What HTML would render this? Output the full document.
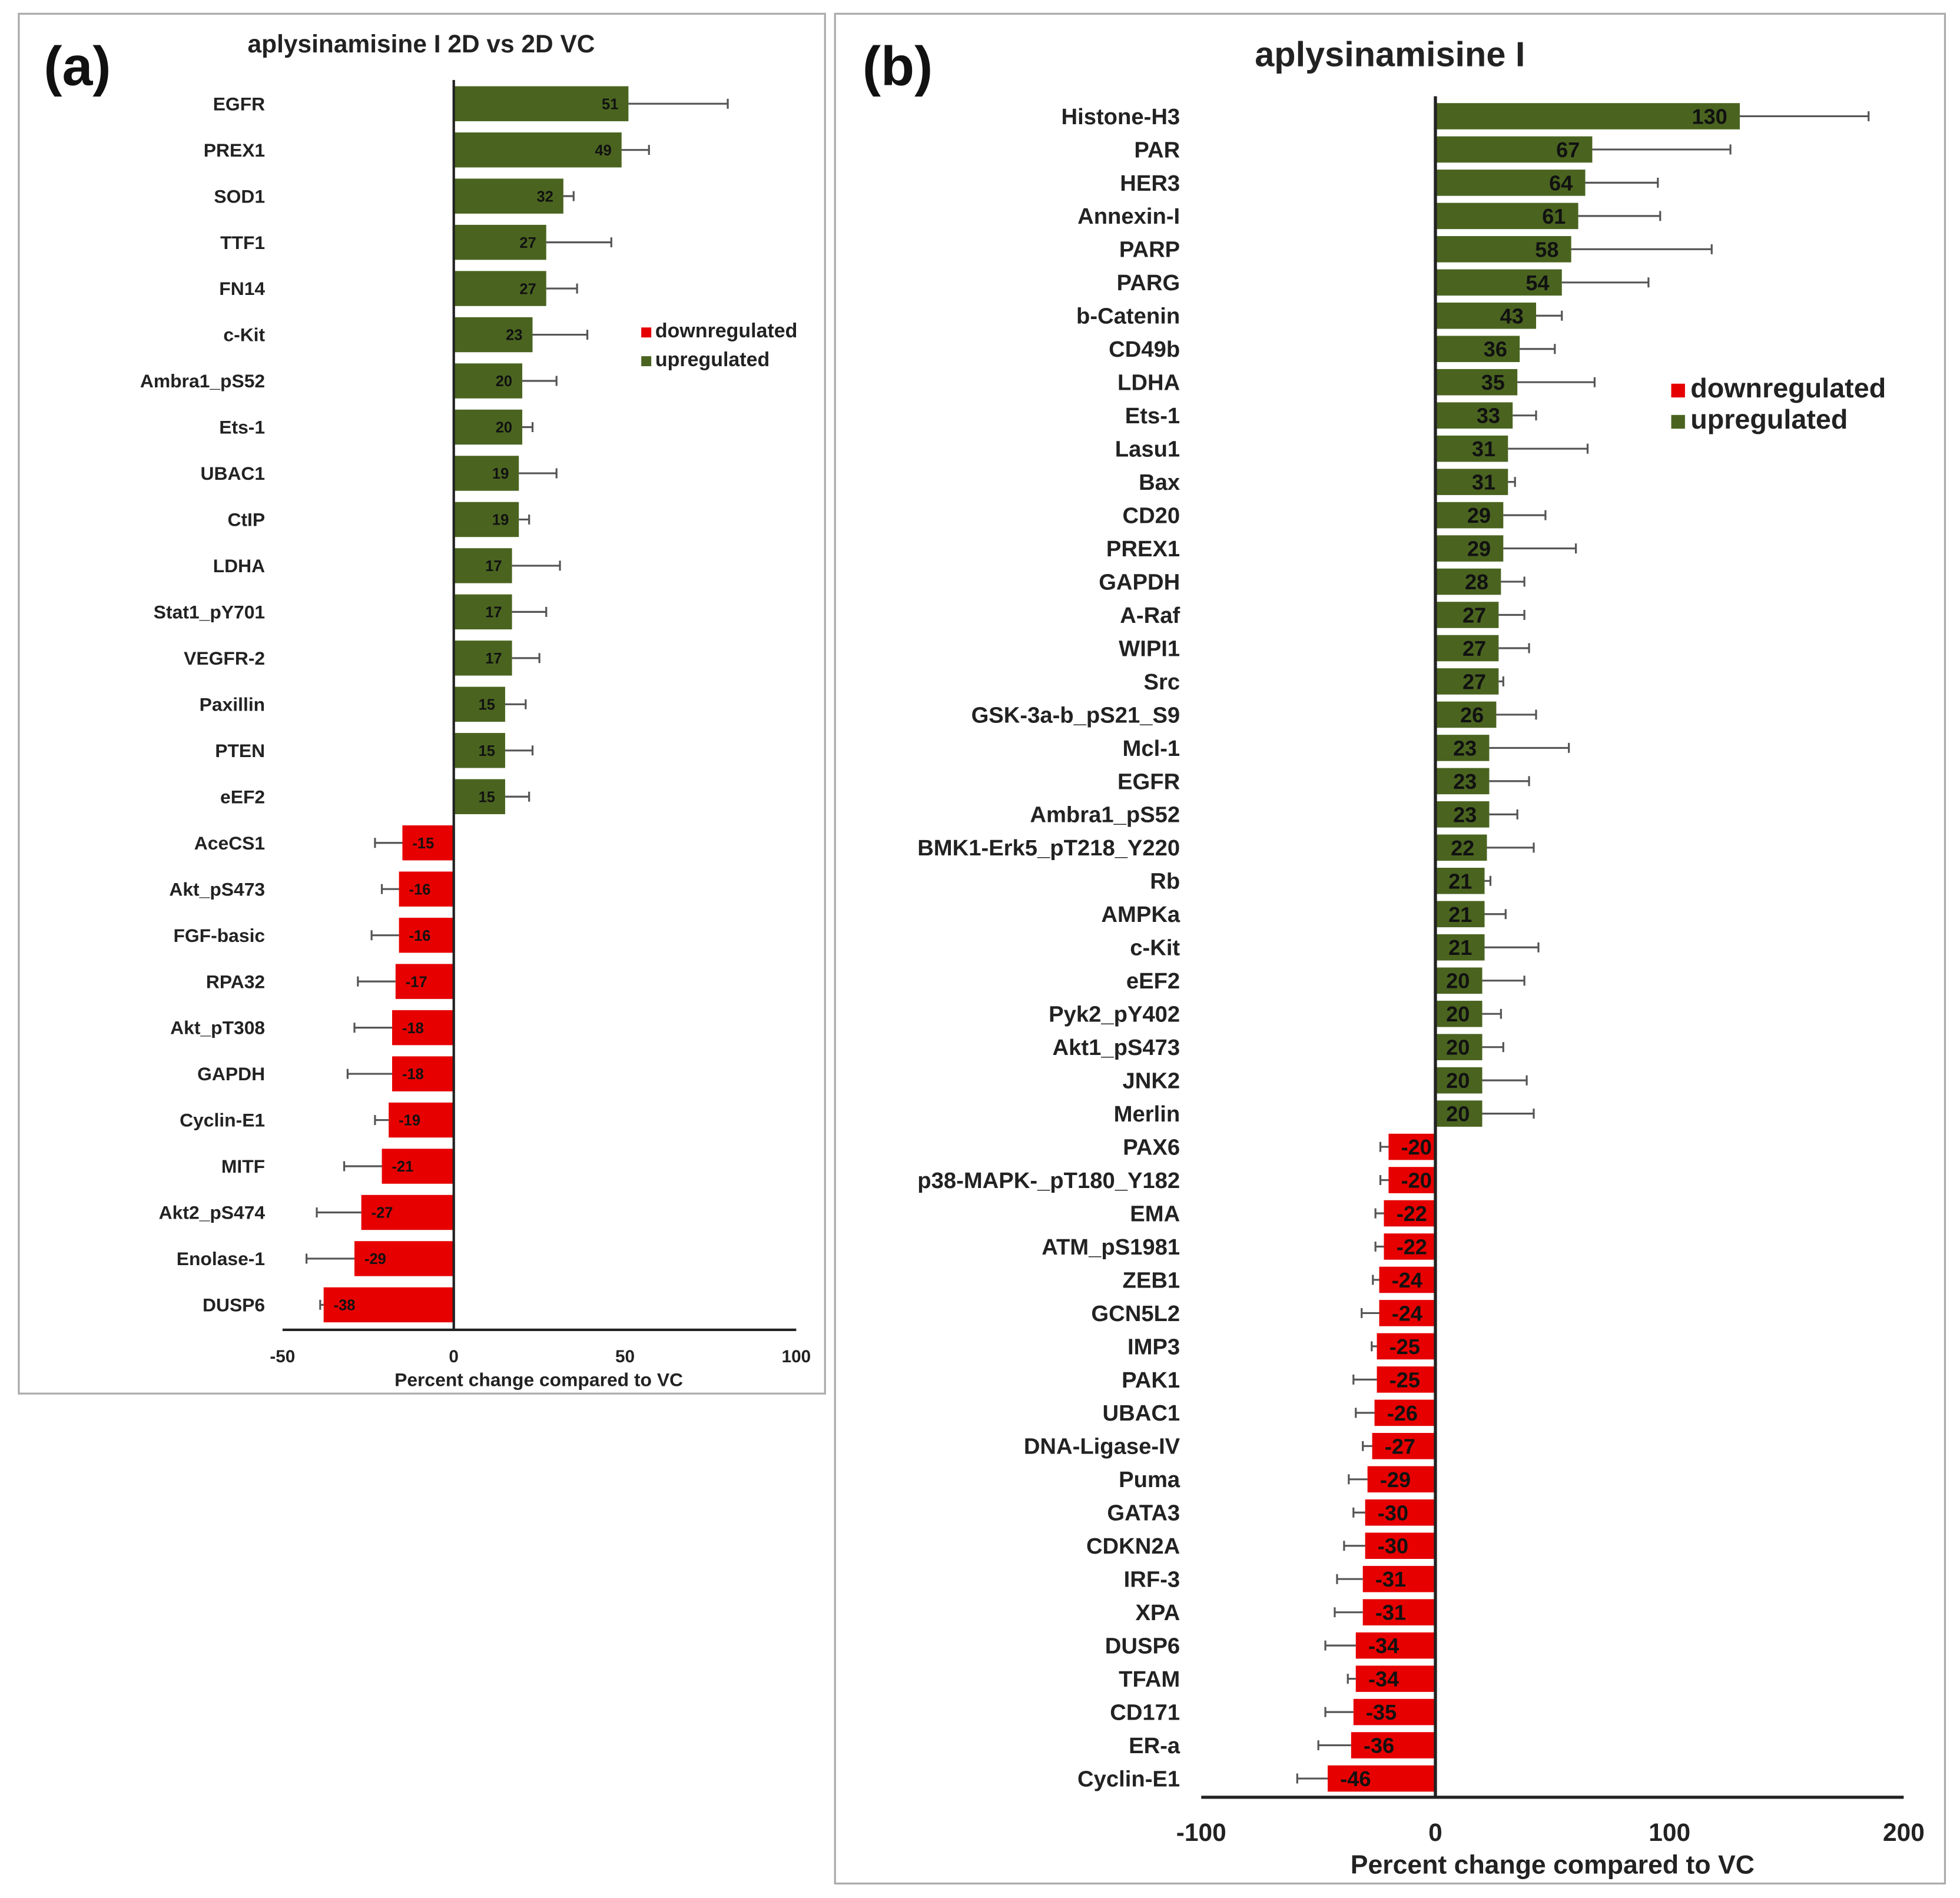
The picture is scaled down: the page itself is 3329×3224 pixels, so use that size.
<!DOCTYPE html>
<html><head><meta charset="utf-8">
<style>
html,body{margin:0;padding:0;background:#fff;}
svg{display:block;}
text{font-family:"Liberation Sans",sans-serif;font-weight:bold;}
</style></head>
<body>
<svg id="fig" width="3329" height="3224" viewBox="0 0 1568 1518.6" xmlns="http://www.w3.org/2000/svg">
  <rect x="15" y="11" width="645" height="1104" fill="#fff" stroke="#aaa" stroke-width="1.5"/>
  <rect x="668" y="11" width="888" height="1496" fill="#fff" stroke="#aaa" stroke-width="1.5"/>
  <text x="35" y="68" font-size="44" font-weight="normal" style="font-weight:bold" fill="#111">(a)</text>
  <text x="337" y="42" font-size="20" text-anchor="middle" fill="#222">aplysinamisine I 2D vs 2D VC</text>
  <text x="690" y="68" font-size="44" fill="#111">(b)</text>
  <text x="1112" y="53" font-size="28" text-anchor="middle" fill="#222">aplysinamisine I</text>
  <g id="ga"></g>
  <g id="gb"></g>
</svg>
<script>
const catsA = ["EGFR","PREX1","SOD1","TTF1","FN14","c-Kit","Ambra1_pS52","Ets-1","UBAC1","CtIP","LDHA","Stat1_pY701","VEGFR-2","Paxillin","PTEN","eEF2","AceCS1","Akt_pS473","FGF-basic","RPA32","Akt_pT308","GAPDH","Cyclin-E1","MITF","Akt2_pS474","Enolase-1","DUSP6"];
const valsA = [51,49,32,27,27,23,20,20,19,19,17,17,17,15,15,15,-15,-16,-16,-17,-18,-18,-19,-21,-27,-29,-38];
const errsA = [29,8,3,19,9,16,10,3,11,3,14,10,8,6,8,7,8,5,8,11,11,13,4,11,13,14,1];
const ticksA = [-50,0,50,100];

const catsB = ["Histone-H3","PAR","HER3","Annexin-I","PARP","PARG","b-Catenin","CD49b","LDHA","Ets-1","Lasu1","Bax","CD20","PREX1","GAPDH","A-Raf","WIPI1","Src","GSK-3a-b_pS21_S9","Mcl-1","EGFR","Ambra1_pS52","BMK1-Erk5_pT218_Y220","Rb","AMPKa","c-Kit","eEF2","Pyk2_pY402","Akt1_pS473","JNK2","Merlin","PAX6","p38-MAPK-_pT180_Y182","EMA","ATM_pS1981","ZEB1","GCN5L2","IMP3","PAK1","UBAC1","DNA-Ligase-IV","Puma","GATA3","CDKN2A","IRF-3","XPA","DUSP6","TFAM","CD171","ER-a","Cyclin-E1"];
const valsB = [130,67,64,61,58,54,43,36,35,33,31,31,29,29,28,27,27,27,26,23,23,23,22,21,21,21,20,20,20,20,20,-20,-20,-22,-22,-24,-24,-25,-25,-26,-27,-29,-30,-30,-31,-31,-34,-34,-35,-36,-46];
const errsB = [55,59,31,35,60,37,11,15,33,10,34,3,18,31,10,11,13,2,17,34,17,12,20,2.5,9,23,18,8,9,19,22,3.5,3.5,3.6,3.6,2.7,7.5,2.2,10,8,4,8,5,9,11,12,13,3.4,12,14,13];
const ticksB = [-100,0,100,200];

const NS = "http://www.w3.org/2000/svg";
function mk(parent, tag, attrs, txt){
  const e = document.createElementNS(NS, tag);
  for (const k in attrs) e.setAttribute(k, attrs[k]);
  if (txt !== undefined) e.textContent = txt;
  parent.appendChild(e);
  return e;
}
const GREEN = "#4a6420", RED = "#e60000";

function drawChart(g, cats, vals, errs, ticks, cfg){
  const x = v => cfg.x0 + (v - ticks[0]) * (cfg.x1 - cfg.x0) / (ticks[ticks.length-1] - ticks[0]);
  const step = (cfg.yLast - cfg.yFirst) / (cats.length - 1);
  const y = i => cfg.yFirst + i * step;
  cats.forEach((c, i) => {
    const v = vals[i], e = errs[i], yc = y(i);
    const lab = mk(g, "text", {x: cfg.labelX, y: yc + cfg.fs*0.35, "font-size": cfg.fs, "text-anchor": "end", fill: "#222"}, c);
    
    
    const xa = x(Math.min(0, v)), xb = x(Math.max(0, v));
    const r = mk(g, "rect", {x: xa, y: yc - cfg.bh/2, width: xb - xa, height: cfg.bh, fill: v >= 0 ? GREEN : RED});
    
    
    const xe = x(v + (v >= 0 ? e : -e)), xs = x(v);
    const el = mk(g, "path", {d: `M${xs},${yc} L${xe},${yc} M${xe},${yc-cfg.cap} L${xe},${yc+cfg.cap}`, stroke: "#555", "stroke-width": cfg.ew, fill: "none"});
    
    
    const tx = v >= 0 ? xs - cfg.vpad : xs + cfg.vpad;
    const vt = mk(g, "text", {x: tx, y: yc + cfg.vfs*0.36, "font-size": cfg.vfs, "text-anchor": v >= 0 ? "end" : "start", fill: "#111"}, String(v));
    
    
  });
  const za = mk(g, "line", {x1: x(0), x2: x(0), y1: cfg.yTop, y2: cfg.axisY, stroke: "#222", "stroke-width": cfg.aw});
  
  
  const xa = mk(g, "line", {x1: cfg.x0, x2: cfg.x1, y1: cfg.axisY, y2: cfg.axisY, stroke: "#222", "stroke-width": cfg.aw});
  
  
  ticks.forEach(t => {
    const tl = mk(g, "text", {x: x(t), y: cfg.tickY, "font-size": cfg.tfs, "text-anchor": "middle", fill: "#222"}, String(t));
    
    
  });
  const at = mk(g, "text", {x: cfg.titleX, y: cfg.titleY, "font-size": cfg.afs, "text-anchor": "middle", fill: "#222"}, "Percent change compared to VC");
  
  
  [["downregulated", RED], ["upregulated", GREEN]].forEach((L, k) => {
    const ly = cfg.legY + k * cfg.legDy;
    const sw = mk(g, "rect", {x: cfg.legX, y: ly - cfg.lfs*0.5, width: cfg.lfs*0.5, height: cfg.lfs*0.5, fill: L[1]});
    
    
    const lt = mk(g, "text", {x: cfg.legX + cfg.lfs*0.7, y: ly, "font-size": cfg.lfs, fill: "#222"}, L[0]);
    
    
  });
}

drawChart(document.getElementById("ga"), catsA, valsA, errsA, ticksA, {
  x0: 226, x1: 637, yFirst: 83, yLast: 1044, yTop: 64, axisY: 1064, bh: 28, cap: 4, ew: 1.5, aw: 2,
  labelX: 212, fs: 15, vfs: 12, vpad: 8, tickY: 1090, tfs: 14, titleX: 431, titleY: 1109, afs: 15,
  legX: 513, legY: 270, legDy: 23, lfs: 16
});
drawChart(document.getElementById("gb"), catsB, valsB, errsB, ticksB, {
  x0: 961, x1: 1523, yFirst: 93, yLast: 1423, yTop: 77, axisY: 1438, bh: 21, cap: 4, ew: 1.5, aw: 2.5,
  labelX: 944, fs: 18, vfs: 17, vpad: 10, tickY: 1473, tfs: 20, titleX: 1242, titleY: 1499, afs: 21,
  legX: 1337, legY: 318, legDy: 25, lfs: 22
});
</script>
</body></html>
